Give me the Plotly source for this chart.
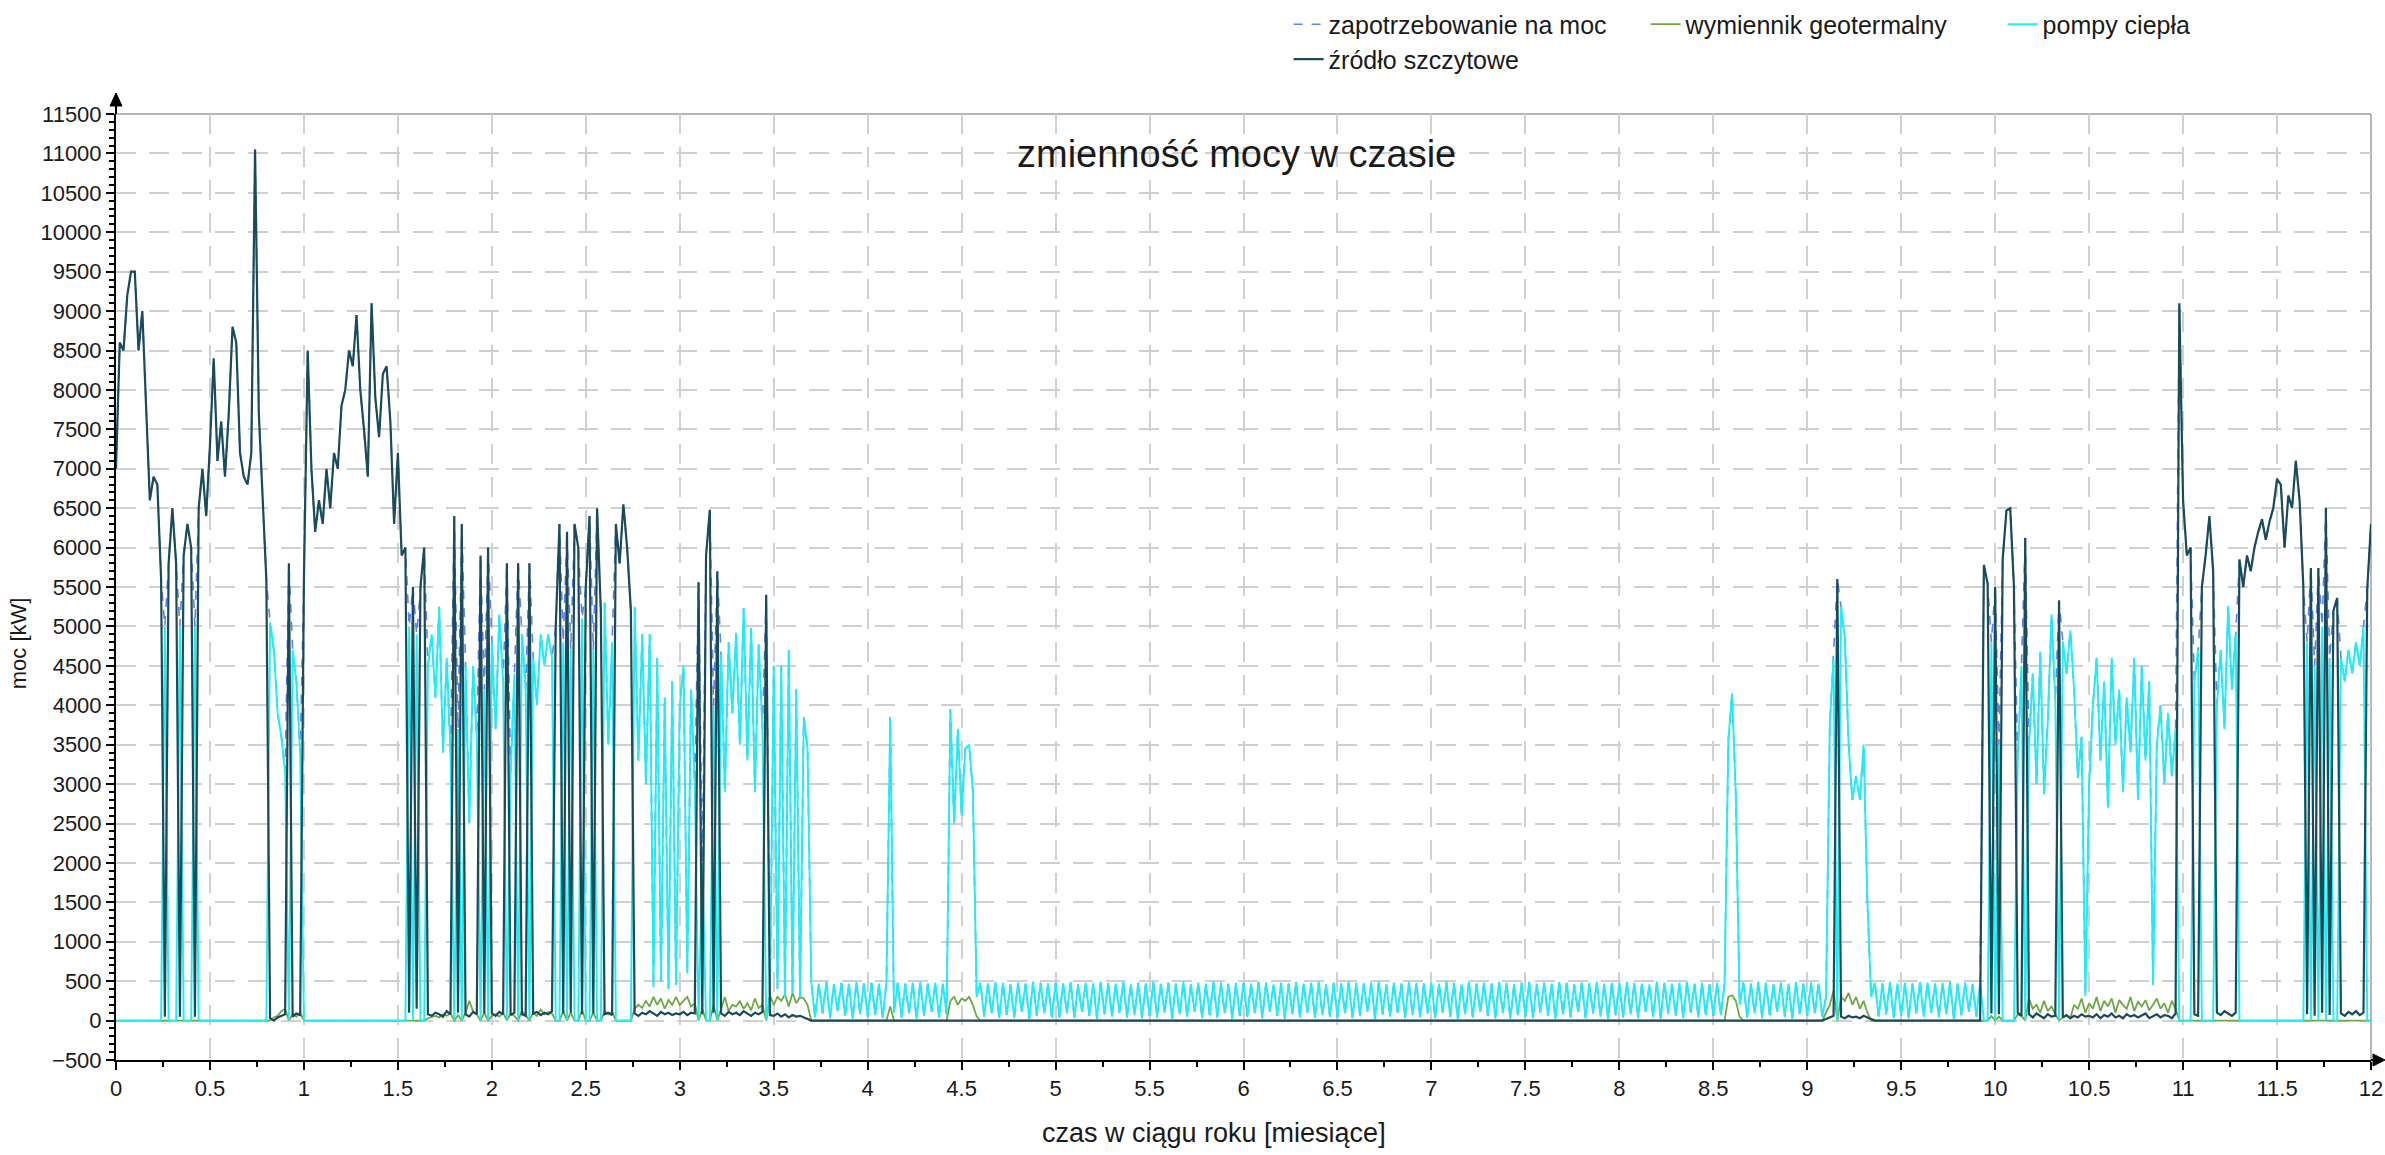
import plotly.graph_objects as go

# --- time axis: months, sampled every 0.02 month (601 samples) ---
czas_miesiace = [round(i * 0.02, 2) for i in range(601)]

# --- zrodlo szczytowe [kW] (one row = half a month, 25 samples) ---
szczyt_kw = [
    7000, 8600, 8500, 9200, 9500, 9500, 8500, 9000, 7800, 6600, 6900, 6800, 5600, 50, 5800, 6500, 5800, 50, 5900, 6300, 6000, 50, 6500, 7000, 6400,
    7300, 8400, 7100, 7600, 6900, 7700, 8800, 8600, 7200, 6900, 6800, 7200, 11050, 7700, 6700, 5600, 30, 0, 40, 60, 80, 5800, 50, 90, 70,
    5600, 8500, 7000, 6200, 6600, 6300, 7000, 6500, 7200, 7000, 7800, 8000, 8500, 8300, 8950, 8000, 7500, 6900, 9100, 7900, 7400, 8200, 8300, 7600, 6300,
    7200, 5900, 6000, 100, 5500, 150, 5500, 6000, 80, 60, 100, 80, 50, 120, 80, 6400, 100, 6300, 80, 50, 110, 80, 5900, 90, 6000,
    90, 60, 110, 80, 5800, 70, 100, 5800, 80, 60, 5800, 90, 110, 70, 100, 80, 120, 5000, 6300, 90, 6200, 100, 6300, 6000, 80,
    5500, 6400, 90, 6500, 5200, 80, 100, 70, 6300, 5800, 6550, 6000, 5200, 90, 60, 100, 80, 120, 90, 60, 110, 80, 100, 70, 90,
    80, 110, 70, 100, 90, 5560, 80, 5900, 6480, 100, 5700, 90, 60, 110, 80, 100, 70, 120, 90, 60, 100, 80, 110, 5400, 70,
    60, 90, 50, 80, 40, 70, 50, 60, 40, 30, 0, 0, 0, 0, 0, 0, 0, 0, 0, 0, 0, 0, 0, 0, 0,
    0, 0, 0, 0, 0, 0, 0, 0, 0, 0, 0, 0, 0, 0, 0, 0, 0, 0, 0, 0, 0, 0, 0, 0, 0,
    0, 0, 0, 0, 0, 0, 0, 0, 0, 0, 0, 0, 0, 0, 0, 0, 0, 0, 0, 0, 0, 0, 0, 0, 0,
    0, 0, 0, 0, 0, 0, 0, 0, 0, 0, 0, 0, 0, 0, 0, 0, 0, 0, 0, 0, 0, 0, 0, 0, 0,
    0, 0, 0, 0, 0, 0, 0, 0, 0, 0, 0, 0, 0, 0, 0, 0, 0, 0, 0, 0, 0, 0, 0, 0, 0,
    0, 0, 0, 0, 0, 0, 0, 0, 0, 0, 0, 0, 0, 0, 0, 0, 0, 0, 0, 0, 0, 0, 0, 0, 0,
    0, 0, 0, 0, 0, 0, 0, 0, 0, 0, 0, 0, 0, 0, 0, 0, 0, 0, 0, 0, 0, 0, 0, 0, 0,
    0, 0, 0, 0, 0, 0, 0, 0, 0, 0, 0, 0, 0, 0, 0, 0, 0, 0, 0, 0, 0, 0, 0, 0, 0,
    0, 0, 0, 0, 0, 0, 0, 0, 0, 0, 0, 0, 0, 0, 0, 0, 0, 0, 0, 0, 0, 0, 0, 0, 0,
    0, 0, 0, 0, 0, 0, 0, 0, 0, 0, 0, 0, 0, 0, 0, 0, 0, 0, 0, 0, 0, 0, 0, 0, 0,
    0, 0, 0, 0, 0, 0, 0, 0, 0, 0, 0, 0, 0, 0, 0, 0, 0, 0, 0, 0, 0, 0, 0, 0, 0,
    0, 0, 0, 0, 0, 20, 40, 60, 5600, 50, 30, 60, 40, 50, 30, 60, 40, 20, 0, 0, 0, 0, 0, 0, 0,
    0, 0, 0, 0, 0, 0, 0, 0, 0, 0, 0, 0, 0, 0, 0, 0, 0, 0, 0, 0, 0, 0, 5780, 5540, 90,
    5500, 80, 5850, 6470, 6500, 5500, 100, 60, 6125, 80, 40, 90, 60, 30, 80, 50, 60, 5330, 40, 70, 30, 60, 40, 80, 50,
    60, 40, 80, 30, 70, 50, 90, 40, 60, 30, 80, 50, 70, 40, 60, 90, 30, 50, 80, 40, 70, 60, 30, 90, 9100,
    6600, 5900, 6000, 80, 60, 5500, 5900, 6400, 5700, 100, 70, 120, 90, 60, 100, 5850, 5500, 5900, 5700, 6000, 6200, 6360, 6100, 6330, 6500,
    6870, 6800, 6000, 6660, 6500, 7100, 6600, 5500, 80, 5740, 60, 5740, 100, 6505, 70, 5200, 5360, 90, 60, 110, 80, 120, 70, 100, 5470,
    6300,
]

# --- pompy ciepla [kW] ---
pompy_kw = [
    0, 0, 0, 0, 0, 0, 0, 0, 0, 0, 0, 0, 0, 5000, 0, 0, 0, 5000, 0, 0, 0, 5000, 0, 0, 0,
    0, 0, 0, 0, 0, 0, 0, 0, 0, 0, 0, 0, 0, 0, 0, 0, 5050, 4700, 3900, 3600, 3150, 0, 4700, 4300, 3400,
    0, 0, 0, 0, 0, 0, 0, 0, 0, 0, 0, 0, 0, 0, 0, 0, 0, 0, 0, 0, 0, 0, 0, 0, 0,
    0, 0, 0, 5000, 0, 4900, 0, 0, 4500, 4900, 4100, 5250, 3400, 4600, 3400, 0, 3700, 0, 4500, 2500, 4500, 3600, 0, 4200, 0,
    4800, 3700, 5150, 4300, 0, 3150, 4400, 0, 4900, 4200, 0, 4600, 4000, 4900, 4500, 4900, 4600, 0, 0, 4800, 0, 4700, 0, 0, 5100,
    0, 0, 4700, 0, 0, 5300, 3500, 4800, 0, 0, 0, 0, 0, 5250, 3300, 4900, 3000, 4900, 420, 4600, 500, 4100, 400, 4300, 450,
    4000, 4500, 600, 4200, 3000, 0, 2000, 0, 0, 4000, 0, 4640, 2900, 4800, 3900, 4920, 3500, 5230, 3300, 4980, 2900, 4770, 3700, 0, 300,
    4500, 400, 4500, 300, 4700, 350, 4200, 300, 3850, 3450, 480, 40, 470, 90, 490, 30, 460, 120, 480, 60, 470, 20, 490, 80, 470,
    50, 480, 70, 470, 30, 490, 3850, 100, 480, 40, 470, 90, 480, 20, 490, 60, 470, 110, 480, 40, 470, 80, 3950, 2500, 3700,
    2600, 3450, 3500, 2900, 300, 480, 50, 470, 90, 490, 30, 480, 70, 460, 40, 480, 110, 470, 20, 490, 60, 480, 90, 470, 40,
    480, 40, 470, 90, 490, 30, 460, 110, 480, 60, 470, 20, 490, 80, 480, 50, 470, 100, 490, 40, 460, 70, 480, 30, 470,
    60, 490, 40, 470, 100, 480, 20, 470, 80, 490, 50, 460, 110, 480, 30, 470, 70, 490, 40, 480, 90, 470, 20, 480, 60,
    480, 50, 470, 90, 490, 30, 480, 110, 460, 60, 480, 20, 470, 80, 490, 40, 470, 100, 480, 30, 490, 70, 460, 50, 480,
    40, 470, 90, 490, 30, 480, 60, 470, 110, 480, 20, 490, 80, 460, 50, 480, 100, 470, 30, 490, 70, 480, 40, 470, 90,
    480, 30, 470, 100, 490, 50, 480, 20, 460, 80, 490, 40, 470, 110, 480, 60, 470, 30, 490, 90, 480, 20, 460, 70, 480,
    50, 490, 30, 470, 100, 480, 60, 470, 20, 490, 80, 480, 40, 460, 110, 480, 30, 470, 90, 490, 50, 470, 20, 480, 70,
    470, 40, 490, 80, 480, 30, 470, 110, 460, 50, 490, 20, 480, 90, 470, 60, 480, 30, 490, 100, 470, 40, 480, 70, 460,
    60, 480, 70, 470, 3550, 4150, 2850, 200, 480, 40, 470, 90, 490, 30, 480, 70, 460, 110, 480, 50, 470, 20, 490, 80, 470,
    60, 480, 90, 470, 50, 300, 3750, 4600, 0, 5250, 4850, 3500, 2800, 3100, 2800, 3500, 1500, 300, 480, 50, 470, 80, 490, 30, 470,
    60, 480, 30, 470, 90, 490, 50, 480, 100, 470, 40, 480, 80, 490, 20, 470, 70, 480, 110, 460, 50, 480, 0, 0, 4800,
    0, 3500, 0, 0, 0, 0, 3300, 4500, 0, 3500, 4400, 3000, 4680, 2870, 3800, 5150, 4050, 0, 4810, 4400, 4950, 4200, 3080, 3600, 310,
    3000, 4000, 4600, 3300, 4300, 2700, 4600, 3500, 4200, 2900, 4100, 3400, 4600, 2800, 4500, 3300, 4300, 450, 3500, 4000, 3000, 3900, 3100, 3700, 0,
    0, 0, 0, 4300, 4700, 0, 0, 0, 0, 4000, 4700, 3700, 5260, 4200, 4900, 0, 0, 0, 0, 0, 0, 0, 0, 0, 0,
    0, 0, 0, 0, 0, 0, 0, 0, 4800, 0, 4500, 0, 5000, 0, 4600, 0, 0, 4600, 4300, 4700, 4400, 4800, 4500, 5000, 0,
    0,
]

# --- wymiennik geotermalny [kW] ---
geo_kw = [
    0, 0, 0, 0, 0, 0, 0, 0, 0, 0, 0, 0, 0, 0, 0, 0, 0, 0, 0, 0, 0, 0, 0, 0, 0,
    0, 0, 0, 0, 0, 0, 0, 0, 0, 0, 0, 0, 0, 0, 0, 0, 0, 40, 60, 120, 150, 0, 80, 50, 100,
    0, 0, 0, 0, 0, 0, 0, 0, 0, 0, 0, 0, 0, 0, 0, 0, 0, 0, 0, 0, 0, 0, 0, 0, 0,
    0, 0, 0, 0, 0, 0, 0, 0, 30, 50, 60, 40, 80, 60, 90, 0, 70, 0, 100, 250, 120, 80, 0, 100, 0,
    60, 80, 50, 100, 0, 90, 60, 0, 120, 70, 0, 100, 60, 140, 80, 110, 90, 0, 0, 120, 0, 100, 0, 0, 130,
    0, 0, 100, 0, 0, 120, 80, 110, 0, 0, 0, 0, 0, 150, 200, 160, 250, 180, 300, 200, 280, 150, 260, 200, 300,
    200, 250, 300, 180, 220, 0, 150, 0, 0, 200, 0, 150, 300, 120, 200, 180, 250, 150, 220, 130, 280, 160, 200, 0, 320,
    200, 300, 250, 330, 180, 350, 220, 300, 280, 200, 0, 0, 0, 0, 0, 0, 0, 0, 0, 0, 0, 0, 0, 0, 0,
    0, 0, 0, 0, 0, 0, 180, 0, 0, 0, 0, 0, 0, 0, 0, 0, 0, 0, 0, 0, 0, 0, 250, 300, 200,
    280, 250, 300, 200, 50, 0, 0, 0, 0, 0, 0, 0, 0, 0, 0, 0, 0, 0, 0, 0, 0, 0, 0, 0, 0,
    0, 0, 0, 0, 0, 0, 0, 0, 0, 0, 0, 0, 0, 0, 0, 0, 0, 0, 0, 0, 0, 0, 0, 0, 0,
    0, 0, 0, 0, 0, 0, 0, 0, 0, 0, 0, 0, 0, 0, 0, 0, 0, 0, 0, 0, 0, 0, 0, 0, 0,
    0, 0, 0, 0, 0, 0, 0, 0, 0, 0, 0, 0, 0, 0, 0, 0, 0, 0, 0, 0, 0, 0, 0, 0, 0,
    0, 0, 0, 0, 0, 0, 0, 0, 0, 0, 0, 0, 0, 0, 0, 0, 0, 0, 0, 0, 0, 0, 0, 0, 0,
    0, 0, 0, 0, 0, 0, 0, 0, 0, 0, 0, 0, 0, 0, 0, 0, 0, 0, 0, 0, 0, 0, 0, 0, 0,
    0, 0, 0, 0, 0, 0, 0, 0, 0, 0, 0, 0, 0, 0, 0, 0, 0, 0, 0, 0, 0, 0, 0, 0, 0,
    0, 0, 0, 0, 0, 0, 0, 0, 0, 0, 0, 0, 0, 0, 0, 0, 0, 0, 0, 0, 0, 0, 0, 0, 0,
    0, 0, 0, 0, 300, 320, 250, 50, 0, 0, 0, 0, 0, 0, 0, 0, 0, 0, 0, 0, 0, 0, 0, 0, 0,
    0, 0, 0, 0, 0, 100, 200, 380, 0, 300, 250, 350, 200, 300, 150, 250, 100, 0, 0, 0, 0, 0, 0, 0, 0,
    0, 0, 0, 0, 0, 0, 0, 0, 0, 0, 0, 0, 0, 0, 0, 0, 0, 0, 0, 0, 0, 0, 0, 0, 60,
    0, 50, 0, 0, 0, 0, 80, 60, 0, 280, 150, 200, 100, 250, 120, 180, 80, 0, 40, 60, 30, 200, 150, 280, 100,
    220, 150, 300, 120, 250, 180, 280, 100, 260, 200, 150, 300, 120, 240, 180, 260, 130, 200, 280, 150, 220, 100, 250, 150, 0,
    0, 0, 0, 0, 0, 0, 0, 0, 0, 0, 0, 0, 0, 0, 0, 0, 0, 0, 0, 0, 0, 0, 0, 0, 0,
    0, 0, 0, 0, 0, 0, 0, 0, 0, 0, 0, 0, 0, 0, 0, 0, 0, 0, 0, 0, 0, 0, 0, 0, 0,
    0,
]

# demand follows the upper envelope of the delivered power
zapotrzebowanie_kw = [max(p, g, s) for p, g, s in zip(pompy_kw, geo_kw, szczyt_kw)]

nazwy = ["zapotrzebowanie na moc", "wymiennik geotermalny", "pompy ciepła", "źródło szczytowe"]
tytul = "zmienność mocy w czasie"
os_x = "czas w ciągu roku [miesiące]"
os_y = "moc [kW]"

FONT = "Liberation Sans, Arial, sans-serif"
TXT = "#1a1a1a"

fig = go.Figure()
fig.add_trace(go.Scatter(x=czas_miesiace, y=zapotrzebowanie_kw, mode="lines", name=nazwy[0],
                         line=dict(color="#5B84E6", width=1.6, dash="dash"), legend="legend"))
fig.add_trace(go.Scatter(x=czas_miesiace, y=geo_kw, mode="lines", name=nazwy[1],
                         line=dict(color="#6EA845", width=1.8), legend="legend"))
fig.add_trace(go.Scatter(x=czas_miesiace, y=pompy_kw, mode="lines", name=nazwy[2],
                         line=dict(color="#1CEEF4", width=1.9), legend="legend"))
fig.add_trace(go.Scatter(x=czas_miesiace, y=szczyt_kw, mode="lines", name=nazwy[3],
                         line=dict(color="#1B4B5A", width=2.2), legend="legend2"))

grid = dict(showgrid=True, gridcolor="#d0d0d0", gridwidth=1.5, griddash="20px,13px")

fig.update_layout(
    width=2385, height=1155,
    margin=dict(l=116, r=14, t=114, b=95, autoexpand=False),
    paper_bgcolor="white", plot_bgcolor="white",
    font=dict(family=FONT, color=TXT),
    showlegend=True,
    legend=dict(orientation="h", x=0.52, xanchor="left", y=1.119, yanchor="top",
                font=dict(size=25, family=FONT, color=TXT), entrywidth=312,
                bgcolor="rgba(0,0,0,0)", itemwidth=30, tracegroupgap=0),
    legend2=dict(orientation="h", x=0.52, xanchor="left", y=1.082, yanchor="top",
                 font=dict(size=25, family=FONT, color=TXT),
                 bgcolor="rgba(0,0,0,0)", itemwidth=30),
    xaxis=dict(range=[0, 12], dtick=0.5, tick0=0, showline=True, linecolor="black", linewidth=2,
               ticks="outside", ticklen=8, tickwidth=1.5, tickcolor="black",
               tickfont=dict(size=22, family=FONT, color=TXT), zeroline=False,
               minor=dict(dtick=0.25, tick0=0, ticks="outside", ticklen=5, tickwidth=1.5,
                          tickcolor="black", showgrid=False),
               **grid),
    yaxis=dict(range=[-500, 11500], dtick=500, tick0=0, tickformat="d", showline=True,
               linecolor="black", linewidth=2,
               ticks="outside", ticklen=8, tickwidth=1.5, tickcolor="black",
               tickfont=dict(size=22, family=FONT, color=TXT), zeroline=False,
               minor=dict(dtick=100, tick0=0, ticks="outside", ticklen=5, tickwidth=1.5,
                          tickcolor="black", showgrid=False),
               **grid),
)

# title and axis titles
fig.add_annotation(text=tytul, xref="paper", yref="paper", x=0.497, y=0.958, xanchor="center",
                   yanchor="middle", showarrow=False, font=dict(size=38, family=FONT, color=TXT))
fig.add_annotation(text=os_x, xref="paper", yref="paper", x=0.487, y=-0.077, xanchor="center",
                   yanchor="middle", showarrow=False, font=dict(size=27, family=FONT, color=TXT))
fig.add_annotation(text=os_y, xref="paper", yref="paper", x=-0.0497, y=0.441, xanchor="left",
                   yanchor="middle", textangle=-90, showarrow=False,
                   font=dict(size=22, family=FONT, color=TXT))

# frame lines (top and right) in light grey
fig.add_shape(type="line", xref="paper", yref="paper", x0=0, x1=1, y0=1, y1=1,
              line=dict(color="#9c9c9c", width=1.5), layer="below")
fig.add_shape(type="line", xref="paper", yref="paper", x0=1, x1=1, y0=0, y1=1,
              line=dict(color="#9c9c9c", width=1.5), layer="below")

# axis arrows
fig.add_shape(type="path", xref="paper", yref="paper", xsizemode="pixel", ysizemode="pixel",
              xanchor=0, yanchor=1, path="M0,0 L0,10", line=dict(color="black", width=2))
fig.add_shape(type="path", xref="paper", yref="paper", xsizemode="pixel", ysizemode="pixel",
              xanchor=0, yanchor=1, path="M-6,8 L0,21 L6,8 Z", fillcolor="black",
              line=dict(color="black", width=1))
fig.add_shape(type="path", xref="paper", yref="paper", xsizemode="pixel", ysizemode="pixel",
              xanchor=1, yanchor=0, path="M0,0 L4,0", line=dict(color="black", width=2))
fig.add_shape(type="path", xref="paper", yref="paper", xsizemode="pixel", ysizemode="pixel",
              xanchor=1, yanchor=0, path="M2,-6 L14,0 L2,6 Z", fillcolor="black",
              line=dict(color="black", width=1))

fig.write_html("out.html")
